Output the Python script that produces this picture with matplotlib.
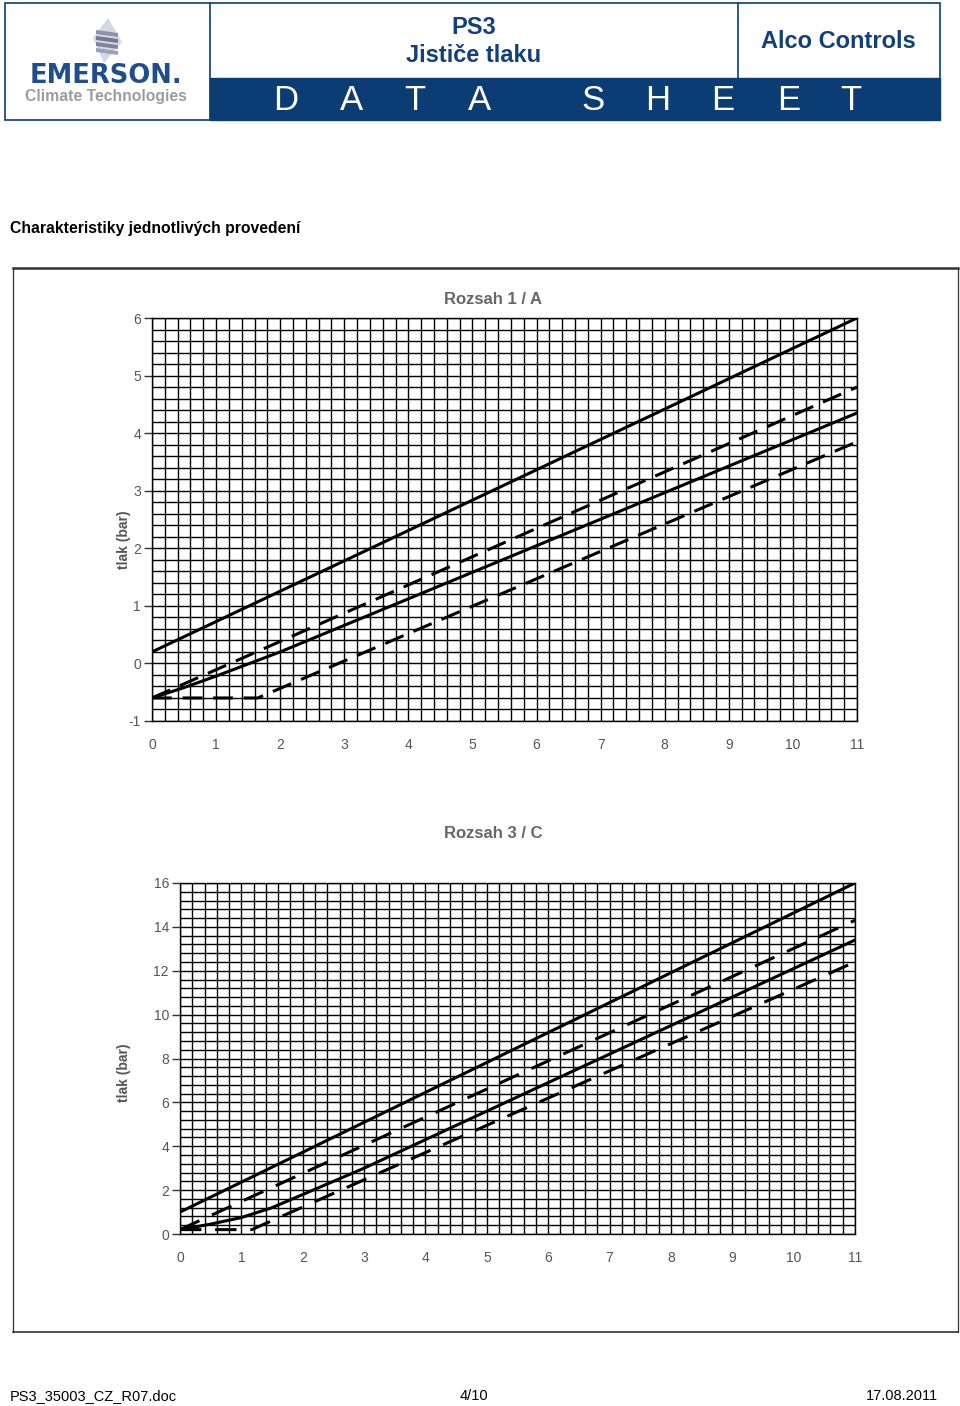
import matplotlib
matplotlib.use("Agg")
import matplotlib.pyplot as plt
import numpy as np
from matplotlib.patches import Rectangle, Polygon

plt.rcParams['font.family'] = ['Liberation Sans', 'DejaVu Sans']
plt.rcParams['axes.unicode_minus'] = False

# ---------------- data ----------------
# Rozsah 1 / A
a_x_ticks = list(range(0, 12))
a_y_ticks = list(range(-1, 7))
a_solid_hi_x = [0, 11]
a_solid_hi_y = [0.2, 6.0]
a_dash_hi_x = [0, 11]
a_dash_hi_y = [-0.6, 4.8]
a_solid_lo_x = [0, 0.5, 1, 2, 11]
a_solid_lo_y = [-0.6, -0.42, -0.22, 0.2, 4.35]
a_dash_lo_x = [0, 1.65, 11]
a_dash_lo_y = [-0.6, -0.6, 3.85]

# Rozsah 3 / C
c_x_ticks = list(range(0, 12))
c_y_ticks = list(range(0, 17, 2))
c_solid_hi_x = [0, 11]
c_solid_hi_y = [1.0, 16.0]
c_dash_hi_x = [0, 11]
c_dash_hi_y = [0.2, 14.3]
c_solid_lo_x = [0, 0.5, 1, 1.5, 2, 3, 11]
c_solid_lo_y = [0.2, 0.45, 0.75, 1.2, 1.8, 3.0, 13.4]
c_dash_lo_x = [0, 1.17, 11]
c_dash_lo_y = [0.2, 0.2, 12.4]

W, H = 960, 1406
fig = plt.figure(figsize=(W / 100, H / 100), dpi=100)

# overlay axes in pixel coordinates
ov = fig.add_axes([0, 0, 1, 1])
ov.set_xlim(0, W)
ov.set_ylim(H, 0)
ov.axis('off')

navy = '#0b3d74'
txtblue = '#12407c'

# ---------------- header ----------------
ov.add_patch(Rectangle((5, 3), 935, 117, fill=False, ec=navy, lw=1.2))
ov.add_patch(Rectangle((210, 78), 730, 42, fc=navy, ec=navy))
ov.plot([210, 210], [3, 120], color=navy, lw=1.2)
ov.plot([738, 738], [3, 78], color=navy, lw=1.2)

# logo icon: slanted parallelogram with stripes
ov.add_patch(Polygon([(108, 18), (122, 42), (104, 63), (93, 38)], closed=True,
                     fc='#d4d8e0', ec='none'))
for i in range(4):
    y0 = 30 + i * 6
    ov.add_patch(Polygon([(96, y0), (118, y0 + 3), (118, y0 + 7), (96, y0 + 4)], closed=True,
                         fc=['#8a93aa', '#6f7a96', '#7c86a0', '#9aa2b6'][i], ec='none'))
ov.text(106, 76, 'EMERSON.', ha='center', va='center', fontsize=18.5, fontweight='bold',
        color='#1f4e8c', family='DejaVu Sans')
ov.text(106, 96, 'Climate Technologies', ha='center', va='center', fontsize=11.3,
        fontweight='bold', color='#9a9ca0')

ov.text(474, 27, 'PS3', ha='center', va='center', fontsize=17, fontweight='bold', color=txtblue)
ov.text(474, 56, 'Jističe tlaku', ha='center', va='center', fontsize=17, fontweight='bold',
        color=txtblue)
ov.text(838, 42, 'Alco Controls', ha='center', va='center', fontsize=17, fontweight='bold',
        color=txtblue)
for ch, xx in zip('DATASHEET', [286, 351, 415, 479, 593, 658, 723, 789, 851]):
    ov.text(xx, 100, ch, ha='center', va='center', fontsize=25, color='white')

# section title
ov.text(10, 228, 'Charakteristiky jednotlivých provedení', ha='left', va='center',
        fontsize=11.3, fontweight='bold', color='black')

# frame
ov.plot([13, 958], [268, 268], color='#333333', lw=1.8)
ov.plot([13, 13], [268, 1332], color='#333333', lw=0.9)
ov.plot([958, 958], [268, 1332], color='#333333', lw=0.9)
ov.plot([13, 958], [1332, 1332], color='#333333', lw=1.2)

# footer
ov.text(10, 1396, 'PS3_35003_CZ_R07.doc', ha='left', va='center', fontsize=10.5)
ov.text(474, 1396, '4/10', ha='center', va='center', fontsize=10.5)
ov.text(938, 1396, '17.08.2011', ha='right', va='center', fontsize=10.5)

gray = '#555555'


def make_chart(rect, xt, yt, xminor, yminor, ylim, title, title_y, ylabel_x, ylabel_y):
    ax = fig.add_axes(rect)
    ax.set_xlim(0, 11)
    ax.set_ylim(*ylim)
    ax.set_xticks(xt)
    ax.set_yticks(yt)
    ax.set_xticks(np.arange(0, 11.001, xminor), minor=True)
    ax.set_yticks(np.arange(ylim[0], ylim[1] + 0.001, yminor), minor=True)
    ax.grid(True, which='both', color='black', lw=1.0)
    ax.set_axisbelow(True)
    for s in ax.spines.values():
        s.set_color('black')
        s.set_linewidth(1.0)
    ax.tick_params(axis='x', which='both', length=0, pad=12, labelsize=10, labelcolor=gray)
    ax.tick_params(axis='y', which='major', length=6, width=1, color='#333333', pad=2,
                   labelsize=10, labelcolor=gray)
    ax.tick_params(axis='y', which='minor', length=0)
    ov.text(493, title_y, title, ha='center', va='center', fontsize=12, fontweight='bold',
            color='#666666')
    ov.text(ylabel_x, ylabel_y, 'tlak (bar)', ha='center', va='center', rotation=90,
            fontsize=10, fontweight='bold', color='#555555')
    return ax


# chart A
axA = make_chart([152 / W, 1 - 721 / H, 705 / W, 403 / H], a_x_ticks, a_y_ticks, 0.2, 0.2,
                 (-1, 6), 'Rozsah 1 / A', 300, 124, 540)
lw = 2.2
axA.plot(a_solid_hi_x, a_solid_hi_y, color='black', lw=lw, solid_capstyle='butt')
axA.plot(a_solid_lo_x, a_solid_lo_y, color='black', lw=lw)
axA.plot(a_dash_hi_x, a_dash_hi_y, color='black', lw=lw, dashes=(6.5, 3.5))
axA.plot(a_dash_lo_x, a_dash_lo_y, color='black', lw=lw, dashes=(6.5, 3.5))

# chart C
axC = make_chart([180 / W, 1 - 1234 / H, 675 / W, 351 / H], c_x_ticks, c_y_ticks, 0.2, 0.4,
                 (0, 16), 'Rozsah 3 / C', 833, 124, 1073)
axC.plot(c_solid_hi_x, c_solid_hi_y, color='black', lw=lw)
axC.plot(c_solid_lo_x, c_solid_lo_y, color='black', lw=lw)
axC.plot(c_dash_hi_x, c_dash_hi_y, color='black', lw=lw, dashes=(7.0, 4.5))
axC.plot(c_dash_lo_x, c_dash_lo_y, color='black', lw=lw, dashes=(7.0, 4.5))

fig.savefig('out.png', dpi=100)
